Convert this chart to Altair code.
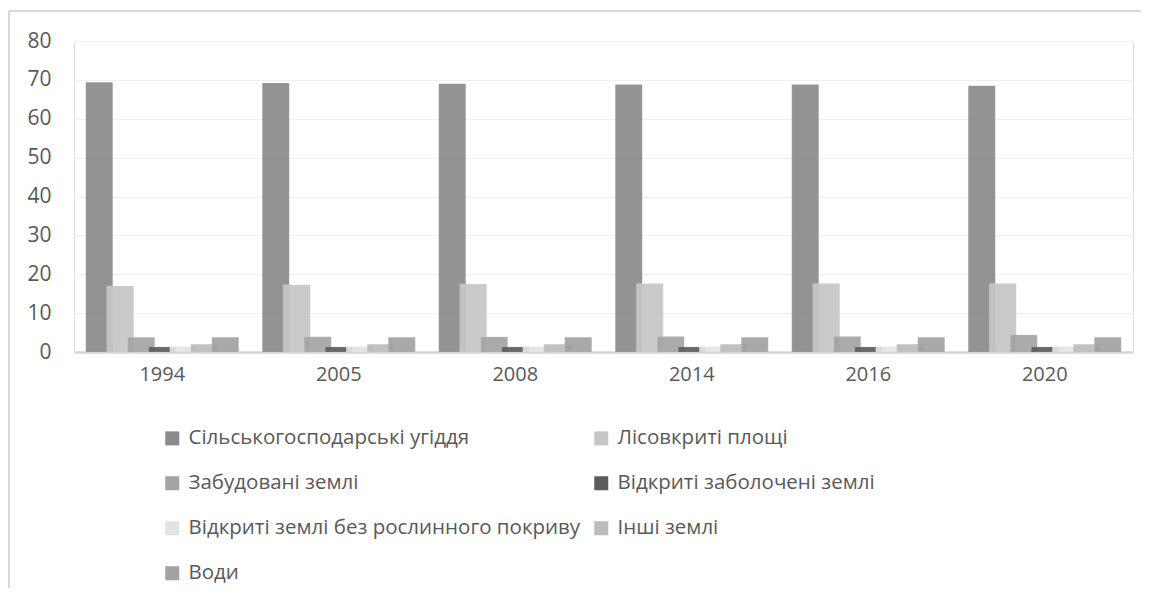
import altair as alt
import pandas as pd

years = ["1994", "2005", "2008", "2014", "2016", "2020"]
series = [
    "Сільськогосподарські угіддя",
    "Лісовкриті площі",
    "Забудовані землі",
    "Відкриті заболочені землі",
    "Відкриті землі без рослинного покриву",
    "Інші землі",
    "Води",
]
colors = ["#8a8a8a", "#c6c6c6", "#a4a4a4", "#5c5c5c", "#e3e3e3", "#bcbcbc", "#a2a2a2"]
# legend is filled column by column, so list entries in that order
legend_order = [0, 2, 4, 6, 1, 3, 5]

silske = [69.4, 69.2, 69.0, 68.8, 68.8, 68.5]
lis = [17.0, 17.3, 17.5, 17.6, 17.6, 17.6]
zabud = [3.8, 3.9, 3.9, 4.0, 4.0, 4.4]
zabol = [1.3, 1.3, 1.3, 1.3, 1.3, 1.3]
bez = [1.4, 1.4, 1.4, 1.4, 1.4, 1.4]
inshi = [2.0, 2.0, 2.0, 2.0, 2.0, 2.0]
vody = [3.8, 3.8, 3.8, 3.8, 3.8, 3.8]

values = [silske, lis, zabud, zabol, bez, inshi, vody]
rows = []
for i, y in enumerate(years):
    for j, s in enumerate(series):
        rows.append({"year": y, "series": s, "value": values[j][i], "order": j})
df = pd.DataFrame(rows)

leg_domain = [series[k] for k in legend_order]
leg_range = [colors[k] for k in legend_order]

FONT = "Open Sans"

bars = alt.Chart(df).mark_bar(width=27, opacity=0.92, stroke="#ffffff", strokeOpacity=0.25, strokeWidth=0.5).encode(
    x=alt.X("year:N", sort=years, title=None,
            scale=alt.Scale(paddingInner=0.167, paddingOuter=0.0835),
            axis=alt.Axis(labelAngle=0, labelFontSize=20, labelColor="#595959", labelFont=FONT,
                          ticks=False, domainColor="#d4d4d4", domainWidth=2.5, labelPadding=12)),
    xOffset=alt.XOffset("series:N", sort=series, scale=alt.Scale(paddingInner=0, paddingOuter=0)),
    y=alt.Y("value:Q", title=None, scale=alt.Scale(domain=[0, 80]),
            axis=alt.Axis(values=[0, 10, 20, 30, 40, 50, 60, 70, 80], labelFontSize=21,
                          labelColor="#595959", labelFont=FONT, ticks=False, domain=False,
                          gridColor="#efefef", gridWidth=1.2, labelPadding=23)),
    color=alt.Color("series:N", scale=alt.Scale(domain=leg_domain, range=leg_range),
                    legend=alt.Legend(title=None, orient="none", legendX=88, legendY=387,
                                      columns=2, symbolType="square", symbolSize=196,
                                      symbolStrokeWidth=0, labelFontSize=20.5, labelFont=FONT,
                                      labelColor="#595959", rowPadding=24, columnPadding=10,
                                      labelOffset=6, labelLimit=700, symbolOpacity=1)),
    order=alt.Order("order:Q"),
)

frame_top = alt.Chart(df).mark_rule(color="#d9d9d9", strokeWidth=1.5).encode(
    x=alt.value(-65), x2=alt.value(1067), y=alt.value(-30))
frame_left = alt.Chart(df).mark_rule(color="#d9d9d9", strokeWidth=1.5).encode(
    x=alt.value(-65), y=alt.value(-30), y2=alt.value(547))

chart = alt.layer(frame_top, frame_left, bars).properties(
    width=1059, height=311,
    padding={"left": 0, "top": 2, "right": 0, "bottom": 0},
).configure_view(stroke=None).configure(background="white")

chart.save("out.html", embed_options={"renderer": "svg", "actions": False})
